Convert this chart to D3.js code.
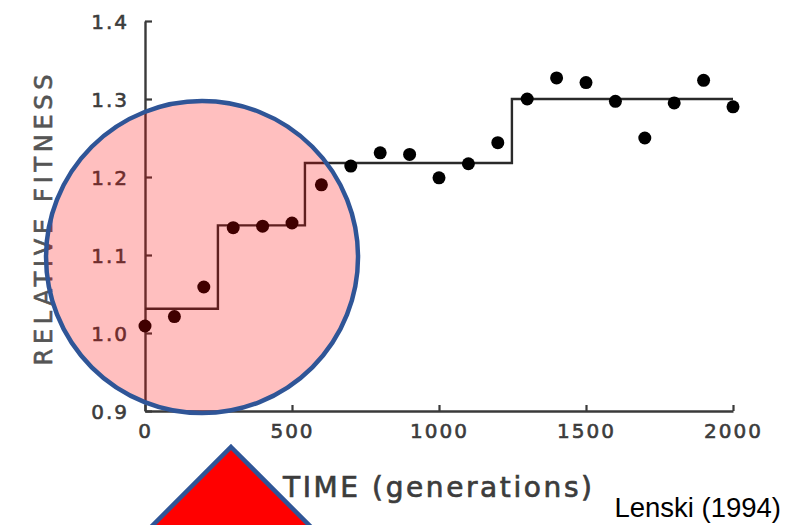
<!DOCTYPE html>
<html>
<head>
<meta charset="utf-8">
<script src="https://cdn.jsdelivr.net/npm/d3@7/dist/d3.min.js"></script>
<style>
  body { margin: 0; background: #fff; }
  svg { display: block; }
</style>
</head>
<body>
<div class="canva"></div>
<script>
// data
const times = [0, 100, 200, 300, 400, 500, 600, 700, 800, 900, 1000,
               1100, 1200, 1300, 1400, 1500, 1600, 1700, 1800, 1900, 2000];
const fitness = [1.009, 1.021, 1.059, 1.135, 1.137, 1.141, 1.190, 1.214, 1.231, 1.229, 1.199,
                 1.217, 1.244, 1.300, 1.327, 1.321, 1.297, 1.250, 1.295, 1.324, 1.290];
const stepTimes = [0, 248, 544, 1248, 2000];
const stepLevels = [1.031, 1.138, 1.218, 1.300, 1.300];
const xTicks = [0, 500, 1000, 1500, 2000];
const yTicks = [0.9, 1.0, 1.1, 1.2, 1.3, 1.4];

const width = 787, height = 525;

const svg = d3.select('.canva').append('svg')
    .attr('width', width)
    .attr('height', height);

const x = d3.scaleLinear().domain([0, 2000]).range([145, 733]);
const y = d3.scaleLinear().domain([0.9, 1.4]).range([411, 21]);

const tickFont = '"DejaVu Sans", sans-serif';

// axes, ticks pointing inward
const yAxisGroup = svg.append('g')
    .attr('transform', `translate(${x(0)}, 0)`)
    .call(d3.axisLeft(y).tickValues(yTicks).tickFormat(d3.format('.1f'))
        .tickSizeInner(-7).tickSizeOuter(0).tickPadding(16));

const xAxisGroup = svg.append('g')
    .attr('transform', `translate(0, ${y(0.9)})`)
    .call(d3.axisBottom(x).tickValues(xTicks).tickFormat(d3.format('d'))
        .tickSizeInner(-6).tickSizeOuter(0).tickPadding(13));

[yAxisGroup, xAxisGroup].forEach(g => {
    g.select('.domain').attr('stroke', '#3a3a3a').attr('stroke-width', 2.4);
    g.selectAll('.tick line').attr('stroke', '#3a3a3a').attr('stroke-width', 2.2);
    g.selectAll('.tick text')
        .attr('fill', '#3c3c3c')
        .attr('stroke', '#3c3c3c')
        .attr('stroke-width', 0.6)
        .style('font-family', tickFont)
        .style('font-size', '20px')
        .style('letter-spacing', '2px');
});
yAxisGroup.selectAll('.tick text').attr('dy', '0.36em');

// step line (fitted model)
const stepLine = d3.line()
    .x((d, i) => x(stepTimes[i]))
    .y(d => y(d))
    .curve(d3.curveStepAfter);

svg.append('path')
    .datum(stepLevels)
    .attr('d', stepLine)
    .attr('fill', 'none')
    .attr('stroke', '#2a2a2a')
    .attr('stroke-width', 2.4);

// points
svg.selectAll('circle.pt')
    .data(fitness)
    .enter().append('circle')
    .attr('class', 'pt')
    .attr('cx', (d, i) => x(times[i]))
    .attr('cy', d => y(d))
    .attr('r', 6.5)
    .attr('fill', '#000');

// axis titles
svg.append('text')
    .attr('transform', `translate(52, ${(y(1.4) + y(0.9)) / 2 + 4}) rotate(-90)`)
    .attr('text-anchor', 'middle')
    .attr('textLength', 291)
    .attr('lengthAdjust', 'spacing')
    .attr('fill', '#555')
    .attr('stroke', '#555')
    .attr('stroke-width', 0.6)
    .style('font-family', tickFont)
    .style('font-size', '24px')
    .text('RELATIVE FITNESS');

svg.append('text')
    .attr('x', 283)
    .attr('y', 497)
    .attr('textLength', 309)
    .attr('lengthAdjust', 'spacing')
    .attr('fill', '#3c3c3c')
    .attr('stroke', '#3c3c3c')
    .attr('stroke-width', 0.7)
    .style('font-family', tickFont)
    .style('font-size', '28px')
    .text('TIME (generations)');

svg.append('text')
    .attr('x', 781)
    .attr('y', 517)
    .attr('text-anchor', 'end')
    .attr('fill', '#000')
    .style('font-family', '"Liberation Sans", Arial, sans-serif')
    .style('font-size', '27.5px')
    .text('Lenski (1994)');

// highlight annotations
svg.append('circle')
    .attr('cx', x(194))
    .attr('cy', y(1.0974))
    .attr('r', 156)
    .attr('fill', 'rgba(255, 0, 0, 0.25)')
    .attr('stroke', '#2F5597')
    .attr('stroke-width', 4.5);

const apex = [231, 447];
svg.append('path')
    .attr('d', `M${apex[0]},${apex[1]} L${apex[0] + 100},${apex[1] + 100} L${apex[0] - 100},${apex[1] + 100} Z`)
    .attr('fill', '#FF0000')
    .attr('stroke', '#2F5597')
    .attr('stroke-width', 4.5)
    .attr('stroke-linejoin', 'miter');
</script>
</body>
</html>
